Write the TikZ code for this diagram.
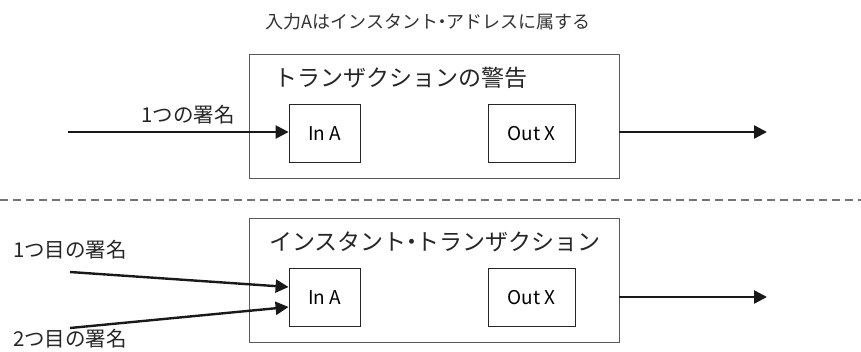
\documentclass[tikz,border=0pt]{standalone}
\usepackage{fontspec}
\setmainfont{Noto Sans CJK JP}
\usetikzlibrary{arrows.meta}
\newcommand{\narrowdot}{\hspace{-0.28em}・\hspace{-0.28em}}
\begin{document}
\begin{tikzpicture}[x=1pt,y=-1pt,
  outerbox/.style={draw=black!65,line width=0.9pt,minimum width=370pt,minimum height=124pt,inner sep=0pt},
  inbox/.style={draw=black!85,line width=0.8pt,minimum width=71pt,minimum height=58pt,inner sep=0pt,font=\fontsize{19}{22}\selectfont},
  outbox/.style={draw=black!85,line width=0.8pt,minimum width=87pt,minimum height=58pt,inner sep=0pt,font=\fontsize{19}{22}\selectfont},
  titletext/.style={inner sep=0pt,font=\fontsize{23}{27}\selectfont,text=black!85},
  labeltext/.style={inner sep=0pt,font=\fontsize{20.5}{24}\selectfont,text=black!85},
  flow/.style={line width=2.4pt,draw=black!90,-{Triangle[length=13pt,width=13pt]}}
]
\useasboundingbox (0,0) rectangle (861,351);
\node[inner sep=0pt,font=\fontsize{18}{21}\selectfont,text=black!80] (head) at (428,22) {入力Aはインスタント\narrowdot アドレスに属する};
% top transaction
\node[outerbox] (box1) at (434,116) {};
\node[titletext] (title1) at (401,78) {トランザクションの警告};
\node[inbox] (ina1) at (324.5,133.5) {In A};
\node[outbox] (outx1) at (531.5,133.5) {Out X};
\coordinate (src1) at (68,132);
\coordinate (dst1) at (767,132);
\node[labeltext] (lab1) at (188,115) {1つの署名};
\draw[flow] (src1) -- (ina1.west |- src1);
\draw[flow] (box1.east |- dst1) -- (dst1);
% separator
\coordinate (sepl) at (0,200);
\coordinate (sepr) at (861,200);
\draw[black!55,line width=1.2pt,dash pattern=on 8pt off 5pt] (sepl) -- (sepr);
% bottom transaction
\node[outerbox] (box2) at (434,280) {};
\node[titletext] (title2) at (435,242) {インスタント\narrowdot トランザクション};
\node[inbox] (ina2) at (324.5,297.5) {In A};
\node[outbox] (outx2) at (531.5,297.5) {Out X};
\coordinate (src2) at (70,272);
\coordinate (src3) at (70,328);
\coordinate (dst2) at (767,297);
\node[labeltext] (lab2) at (70,250) {1つ目の署名};
\node[labeltext] (lab3) at (70,339) {2つ目の署名};
\draw[flow] (src2) -- (ina2.west |- 0,287);
\draw[flow] (src3) -- (ina2.west |- 0,307);
\draw[flow] (box2.east |- dst2) -- (dst2);
\end{tikzpicture}
\end{document}
